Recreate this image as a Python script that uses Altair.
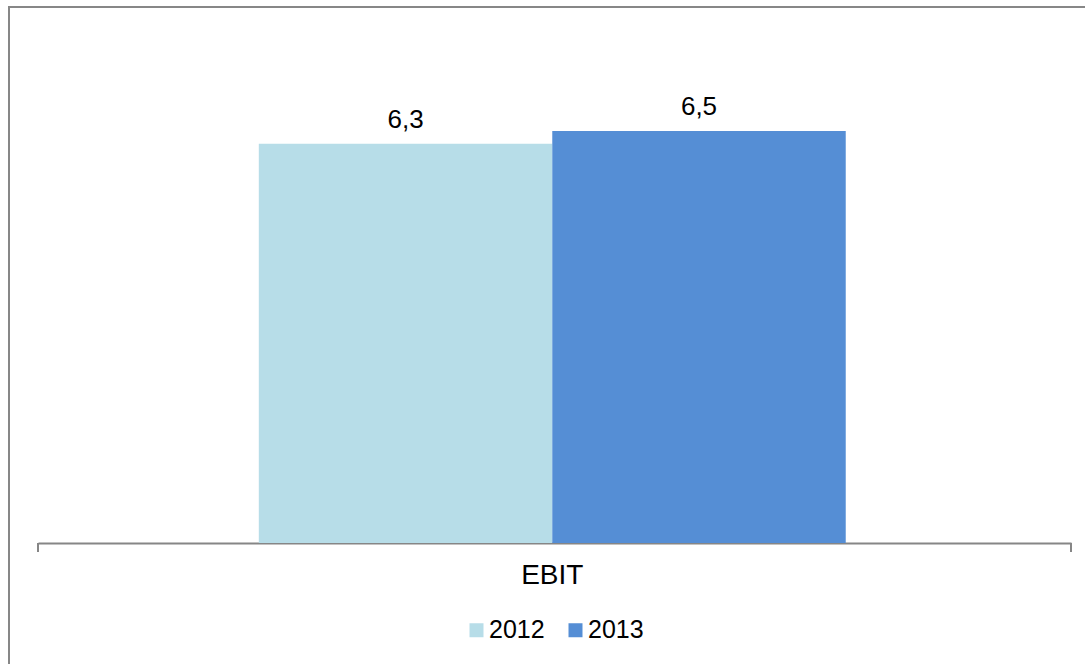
import altair as alt
import pandas as pd

categories = ["EBIT", "EBIT"]
years = ["2012", "2013"]
values = [6.3, 6.5]
colors = ["#B7DDE8", "#558ED5"]

df = pd.DataFrame({"cat": categories, "year": years, "value": values})

FONT = "Liberation Sans"
W, H = 1033, 507

base = alt.Chart(df).transform_calculate(
    label="replace(format(datum.value, '.1f'), '.', ',')"
)

x_enc = alt.X("cat:N", title=None,
              scale=alt.Scale(paddingInner=0, paddingOuter=0.38, align=0.495),
              axis=alt.Axis(labelFont=FONT, labelFontSize=28, labelColor="#000000",
                            labelAngle=0, ticks=False, labelPadding=18,
                            domainColor="#868686", domainWidth=2))
xo_enc = alt.XOffset("year:N", scale=alt.Scale(paddingInner=0, paddingOuter=0))
y_enc = alt.Y("value:Q", axis=None, scale=alt.Scale(domain=[0, 8]))

bars = base.mark_bar().encode(
    x=x_enc, xOffset=xo_enc, y=y_enc,
    color=alt.Color("year:N", scale=alt.Scale(domain=years, range=colors),
                    legend=alt.Legend(title=None, orient="none", direction="horizontal",
                                      legendX=426, legendY=581.5, padding=0,
                                      symbolType="square", symbolSize=196,
                                      symbolStrokeWidth=0, labelFont=FONT,
                                      labelFontSize=25, labelColor="#000000",
                                      labelOffset=0, columnPadding=18,
                                      symbolOpacity=1)),
)

labels = base.mark_text(font=FONT, fontSize=26, color="#000000",
                        baseline="alphabetic", dy=-16).encode(
    x=alt.X("cat:N"), xOffset=xo_enc, y=y_enc, text="label:N"
)

frame = alt.Chart(df).mark_rect(fill=None, stroke="#878787", strokeWidth=2).encode(
    x=alt.value(-29), x2=alt.value(1200), y=alt.value(-29), y2=alt.value(800)
)

tick_left = alt.Chart(df).mark_rule(color="#868686", strokeWidth=2).encode(
    x=alt.value(0), y=alt.value(H), y2=alt.value(H + 9)
)
tick_right = alt.Chart(df).mark_rule(color="#868686", strokeWidth=2).encode(
    x=alt.value(W), y=alt.value(H), y2=alt.value(H + 9)
)

chart = alt.layer(frame, bars, labels, tick_left, tick_right).properties(
    width=W, height=H,
    autosize=alt.AutoSizeParams(type="none"),
    padding={"left": 38, "top": 36, "right": 14, "bottom": 121},
    background="#ffffff",
).configure_view(stroke=None)

chart.save("out.html", embed_options={"renderer": "svg", "actions": False})
